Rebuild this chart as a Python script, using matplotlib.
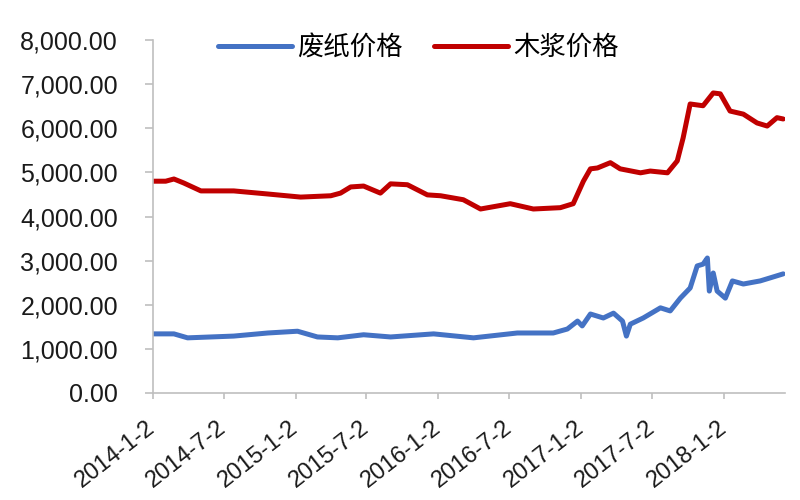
import matplotlib
matplotlib.use('Agg')
import matplotlib.pyplot as plt
import pandas as pd

plt.rcParams['font.family'] = ['Liberation Sans', 'Noto Sans CJK SC', 'DejaVu Sans']

# 木浆价格
pulp_dates = ['2014-01-02', '2014-02-04', '2014-02-25', '2014-03-22', '2014-05-05', '2014-07-28',
              '2014-10-23', '2015-01-15', '2015-04-02', '2015-04-27', '2015-05-23', '2015-06-25',
              '2015-08-07', '2015-09-02', '2015-10-15', '2015-12-05', '2016-01-08', '2016-03-06',
              '2016-04-19', '2016-07-04', '2016-09-01', '2016-11-09', '2016-12-12', '2017-01-07',
              '2017-01-25', '2017-02-12', '2017-03-17', '2017-04-11', '2017-06-02', '2017-06-27',
              '2017-08-10', '2017-09-04', '2017-09-19', '2017-10-07', '2017-11-09', '2017-12-05',
              '2017-12-23', '2018-01-17', '2018-02-20', '2018-03-27', '2018-04-22', '2018-05-17',
              '2018-06-02']
pulp_price = [4800, 4800, 4850, 4760, 4580, 4580,
              4510, 4440, 4470, 4530, 4670, 4690,
              4530, 4740, 4720, 4490, 4470, 4380,
              4170, 4290, 4170, 4200, 4290, 4800,
              5080, 5100, 5220, 5080, 4990, 5030,
              4990, 5260, 5780, 6550, 6510, 6800,
              6780, 6390, 6320, 6120, 6050, 6240,
              6210]

# 废纸价格
waste_dates = ['2014-01-02', '2014-02-25', '2014-04-01', '2014-07-28', '2014-10-23', '2015-01-07',
               '2015-02-27', '2015-04-20', '2015-06-25', '2015-09-02', '2015-12-21', '2016-04-01',
               '2016-07-22', '2016-10-22', '2016-11-27', '2016-12-23', '2017-01-04', '2017-01-25',
               '2017-02-27', '2017-03-25', '2017-04-17', '2017-04-27', '2017-05-07', '2017-06-09',
               '2017-07-23', '2017-08-17', '2017-09-12', '2017-10-07', '2017-10-25', '2017-11-09',
               '2017-11-20', '2017-11-25', '2017-12-05', '2017-12-15', '2018-01-05', '2018-01-23',
               '2018-02-20', '2018-04-04', '2018-04-30', '2018-06-02']
waste_price = [1340, 1340, 1250, 1290, 1360, 1400,
               1270, 1250, 1320, 1270, 1340, 1250,
               1360, 1360, 1450, 1630, 1520, 1790,
               1700, 1810, 1630, 1290, 1560, 1700,
               1930, 1860, 2150, 2380, 2880, 2920,
               3060, 2310, 2720, 2310, 2150, 2540,
               2470, 2540, 2610, 2700]

tick_dates = ['2014-1-2', '2014-7-2', '2015-1-2', '2015-7-2', '2016-1-2',
              '2016-7-2', '2017-1-2', '2017-7-2', '2018-1-2']

fig = plt.figure(figsize=(8, 5), dpi=100)
ax = fig.add_axes([0.191, 0.214, 0.79, 0.706])

ax.plot(pd.to_datetime(waste_dates), waste_price, color='#4472C4', lw=3.6, label='废纸价格',
        solid_joinstyle='round', solid_capstyle='round')
ax.plot(pd.to_datetime(pulp_dates), pulp_price, color='#C00000', lw=3.6, label='木浆价格',
        solid_joinstyle='round', solid_capstyle='round')

ax.set_ylim(0, 8000)
ax.set_xlim(pd.Timestamp('2014-01-02'), pd.Timestamp('2018-06-06'))
ax.set_yticks(range(0, 8001, 1000))
ax.set_yticklabels([f'{v:,.2f}' for v in range(0, 8001, 1000)])
ax.set_xticks(pd.to_datetime(tick_dates))
ax.set_xticklabels(tick_dates, rotation=38, ha='right', va='center', rotation_mode='anchor')

for s in ['top', 'right']:
    ax.spines[s].set_visible(False)
for s in ['left', 'bottom']:
    ax.spines[s].set_color('#BFBFBF')
    ax.spines[s].set_linewidth(1.2)
ax.tick_params(axis='both', colors='#BFBFBF', labelcolor='#1a1a1a', width=1.2)
ax.tick_params(axis='y', length=6, pad=19, labelsize=18)
ax.tick_params(axis='x', length=4, pad=19, labelsize=17)

leg = ax.legend(loc='upper left', bbox_to_anchor=(0.065, 1.085), ncol=2, frameon=False,
                prop={'family': ['Noto Sans CJK SC'], 'size': 19},
                handlelength=2.8, handletextpad=0.2, columnspacing=1.2)

fig.savefig('out.png', dpi=100)
